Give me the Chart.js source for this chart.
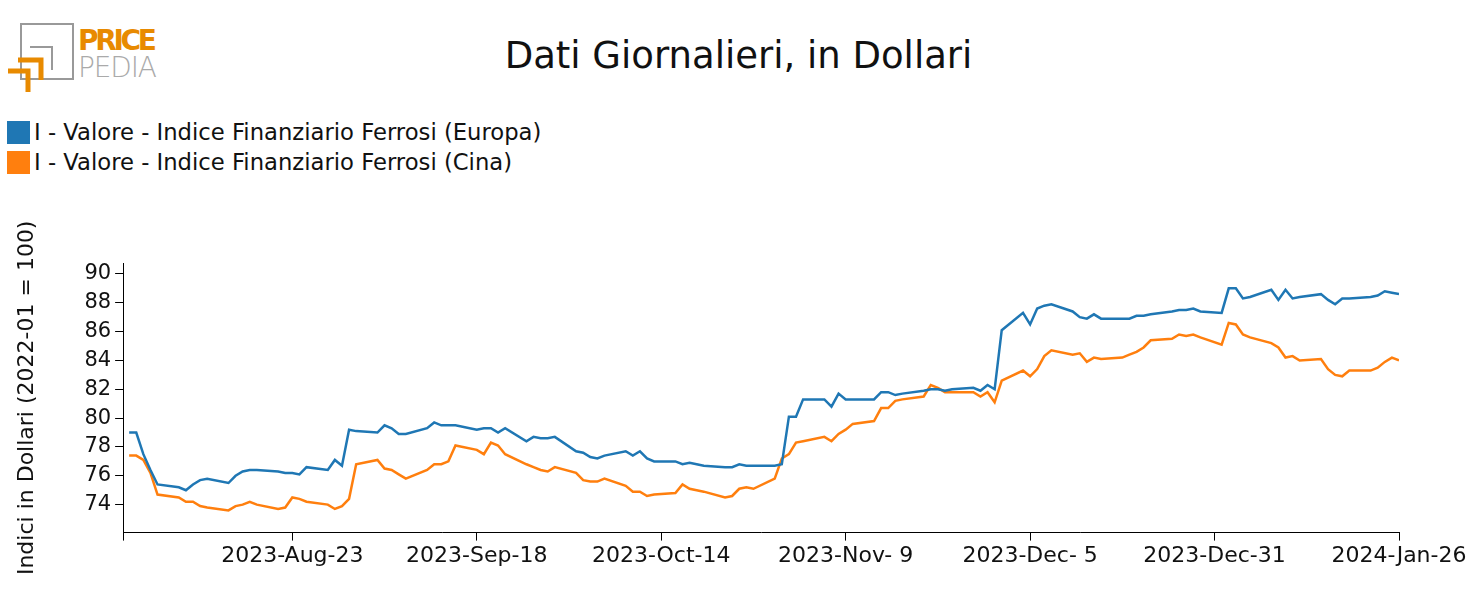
<!DOCTYPE html>
<html>
<head>
<meta charset="utf-8">
<script src="https://cdn.jsdelivr.net/npm/chart.js@4.4.0/dist/chart.umd.min.js"></script>
<style>
  body { margin: 0; width: 1477px; height: 615px; background: #fff; font-family: "DejaVu Sans", sans-serif; position: relative; overflow: hidden; }
  .title { position: absolute; top: 34px; left: 0; width: 1477px; text-align: center; font-size: 37px; color: #111; }
  .logo { position: absolute; left: 0; top: 0; width: 170px; height: 100px; }
  .legend { position: absolute; left: 7px; top: 117px; font-size: 22.7px; color: #111; }
  .legend div { height: 30px; display: flex; align-items: center; }
  .legend span.sw { display: inline-block; width: 23px; height: 23px; margin-right: 4px; }
  #wrap { position: absolute; left: 0; top: 215px; width: 1477px; height: 400px; }
</style>
</head>
<body>
<svg class="logo" viewBox="0 0 170 100">
  <rect x="21" y="24" width="52" height="55" fill="none" stroke="#999" stroke-width="2"/>
  <polyline points="30,47 52,47 52,70" fill="none" stroke="#999" stroke-width="2"/>
  <polyline points="18,60 41,60 41,80" fill="none" stroke="#e88a00" stroke-width="5"/>
  <polyline points="8,71 28,71 28,92" fill="none" stroke="#e88a00" stroke-width="5"/>
  <text x="78" y="50" font-size="28" font-weight="bold" fill="#e88a00" font-family="DejaVu Sans" textLength="79">PRICE</text>
  <text x="78" y="77" font-size="28" fill="#aaa" font-family="DejaVu Sans" font-weight="200" textLength="79">PEDIA</text>
</svg>
<div class="title">Dati Giornalieri, in Dollari</div>
<div class="legend">
  <div><span class="sw" style="background:#1f77b4"></span>I - Valore - Indice Finanziario Ferrosi (Europa)</div>
  <div><span class="sw" style="background:#ff7f0e"></span>I - Valore - Indice Finanziario Ferrosi (Cina)</div>
</div>
<div id="wrap"><canvas id="c"></canvas></div>
<script>
// weekday series starting Mon 2023-07-31, 26 weeks
const startDate = new Date(Date.UTC(2023, 6, 31));
const europa = [
  79.0,79.0,77.5,76.4,75.4, 75.2,75.0,75.4,75.7,75.8, 75.5,76.0,76.3,76.4,76.4,
  76.3,76.2,76.2,76.1,76.6, 76.4,77.1,76.7,79.2,79.1, 79.0,79.5,79.3,78.9,78.9,
  79.3,79.7,79.5,79.5,79.5, 79.2,79.3,79.3,79.0,79.3, 78.4,78.7,78.6,78.6,78.7,
  77.7,77.6,77.3,77.2,77.4, 77.7,77.4,77.7,77.2,77.0, 77.0,76.8,76.9,76.8,76.7,
  76.6,76.6,76.8,76.7,76.7, 76.7,76.8,80.1,80.1,81.3, 81.3,80.8,81.7,81.3,81.3,
  81.3,81.8,81.8,81.6,81.7, 81.9,82.0,82.0,81.9,82.0, 82.1,81.9,82.3,82.0,86.1,
  87.3,86.5,87.6,87.8,87.9, 87.4,87.0,86.9,87.2,86.9, 86.9,86.9,87.1,87.1,87.2,
  87.4,87.5,87.5,87.6,87.4, 87.3,89.0,89.0,88.3,88.4, 88.9,88.2,88.9,88.3,88.4,
  88.6,88.2,87.9,88.3,88.3, 88.4,88.5,88.8,88.7,88.6
];
const cina = [
  77.4,77.4,77.1,76.2,74.7, 74.5,74.2,74.2,73.9,73.8, 73.6,73.9,74.0,74.2,74.0,
  73.7,73.8,74.5,74.4,74.2, 74.0,73.7,73.9,74.4,76.8, 77.1,76.5,76.4,76.1,75.8,
  76.4,76.8,76.8,77.0,78.1, 77.8,77.5,78.3,78.1,77.5, 76.8,76.6,76.4,76.3,76.6,
  76.2,75.7,75.6,75.6,75.8, 75.3,74.9,74.9,74.6,74.7, 74.8,75.4,75.1,75.0,74.9,
  74.5,74.6,75.1,75.2,75.1, 75.8,77.2,77.5,78.3,78.4, 78.7,78.4,78.9,79.2,79.6,
  79.8,80.7,80.7,81.2,81.3, 81.5,82.3,82.1,81.8,81.8, 81.8,81.5,81.8,81.1,82.6,
  83.3,82.9,83.4,84.3,84.7, 84.4,84.5,83.9,84.2,84.1, 84.2,84.4,84.6,84.9,85.4,
  85.5,85.8,85.7,85.8,85.6, 85.1,86.6,86.5,85.8,85.6, 85.2,84.9,84.2,84.3,84.0,
  84.1,83.4,83.0,82.9,83.3, 83.3,83.5,83.9,84.2,84.0
];
const xTickDays = [-0.85, 23, 49, 75, 101, 127, 153, 179];
const yTicks = [74, 76, 78, 80, 82, 84, 86, 88, 90];
const months = ['Jan','Feb','Mar','Apr','May','Jun','Jul','Aug','Sep','Oct','Nov','Dec'];

const days = europa.map((v, i) => Math.floor(i / 5) * 7 + (i % 5));
const fmt = d => {
  if (d < 0) return '';
  const t = new Date(startDate.getTime() + d * 86400000);
  const dd = t.getUTCDate();
  return t.getUTCFullYear() + '-' + months[t.getUTCMonth()] + '-' + (dd < 10 ? ' ' + dd : dd);
};

const font = { family: 'DejaVu Sans', size: 21 };
const xfont = { family: 'DejaVu Sans', size: 22 };
new Chart(document.getElementById('c'), {
  type: 'line',
  data: {
    datasets: [
      { data: days.map((d, i) => ({ x: d, y: europa[i] })), borderColor: '#1f77b4', borderWidth: 2.5, pointRadius: 0, tension: 0 },
      { data: days.map((d, i) => ({ x: d, y: cina[i] })), borderColor: '#ff7f0e', borderWidth: 2.5, pointRadius: 0, tension: 0 }
    ]
  },
  options: {
    responsive: true, maintainAspectRatio: false, animation: false,
    layout: { padding: { left: 14, right: 78, top: 48, bottom: 44 } },
    plugins: { legend: { display: false }, tooltip: { enabled: false } },
    scales: {
      x: {
        type: 'linear', min: -0.85, max: 179,
        afterBuildTicks: ax => { ax.ticks = xTickDays.map(v => ({ value: v })); },
        ticks: { callback: v => fmt(v), color: '#111', font: xfont, maxRotation: 0, autoSkip: false, padding: 2 },
        grid: { drawOnChartArea: false, color: '#000', tickLength: 8 },
        border: { color: '#000', width: 1 }
      },
      y: {
        min: 72.06, max: 90.76,
        afterBuildTicks: ax => { ax.ticks = yTicks.map(v => ({ value: v })); },
        ticks: { color: '#111', font, padding: 4 },
        grid: { drawOnChartArea: false, color: '#000', tickLength: 8 },
        border: { color: '#000', width: 1 },
        title: { display: true, text: 'Indici in Dollari (2022-01 = 100)', color: '#111', font: xfont, padding: { top: 0, bottom: 40 } }
      }
    }
  }
});
</script>
</body>
</html>
